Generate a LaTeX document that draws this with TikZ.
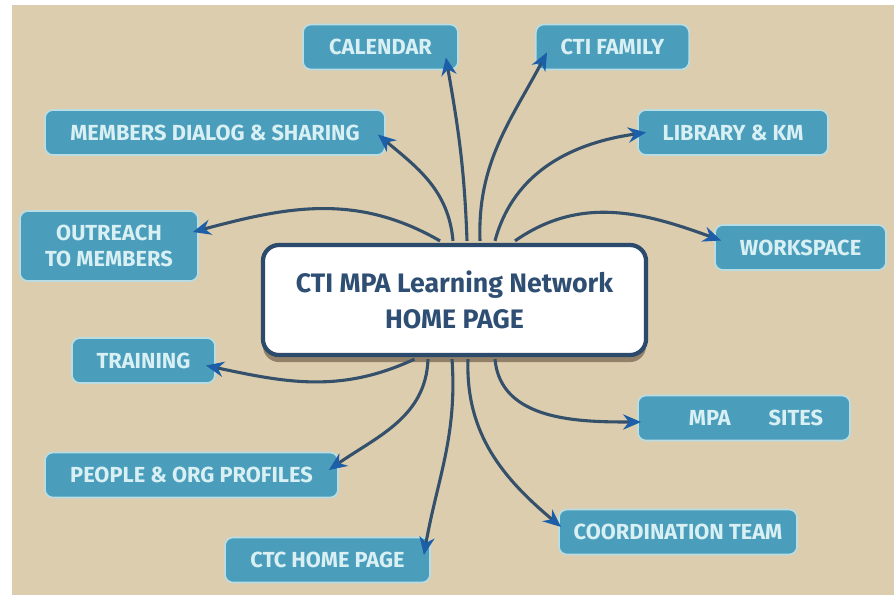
\documentclass[tikz,border=0pt]{standalone}
\usepackage{fontspec}
\setmainfont{Fira Sans}
\usetikzlibrary{arrows.meta,calc,shadows}

\definecolor{sand}{HTML}{DCCDAE}
\definecolor{boxblue}{HTML}{4A9DBB}
\definecolor{boxrim}{HTML}{B9DDE2}
\definecolor{boxtext}{HTML}{D8F0F4}
\definecolor{homeline}{HTML}{2B4A6C}
\definecolor{hometext}{HTML}{2E4E73}
\definecolor{linkline}{HTML}{34506A}
\definecolor{linktip}{HTML}{1D5EA8}

\tikzset{
  topic/.style={draw=boxrim, line width=1.2pt, fill=boxblue, rounded corners=0.2cm,
    text=boxtext, font=\bfseries\fontsize{15.5}{18.5}\selectfont, align=center,
    inner sep=0pt, minimum height=1.125cm},
  home/.style={draw=homeline, line width=3pt, fill=white, rounded corners=0.4cm,
    text=hometext, font=\bfseries\fontsize{19}{26}\selectfont, align=center,
    drop shadow={shadow xshift=0pt, shadow yshift=-5pt, opacity=0.45, fill=black!70!brown}},
  link/.style={draw=linkline, line width=2.2pt,
    -{Stealth[length=0.45cm,width=0.38cm,color=linktip]}},
}

\begin{document}
\begin{tikzpicture}[x=0.025cm,y=0.025cm]
  \useasboundingbox (0,0) rectangle (894,-599);
  \fill[white] (0,0) rectangle (894,-599);
  \fill[sand] (12,-5) rectangle (894,-595);

  % centre page
  \node[home, minimum width=9.575cm, minimum height=2.75cm] (homepage) at (454.5,-300)
    {CTI MPA Learning Network\\HOME PAGE};

  % upper topics
  \node[topic, minimum width=3.875cm] (calendar) at (380.5,-47) {CALENDAR};
  \node[topic, minimum width=3.83cm] (ctifamily) at (612.5,-47) {CTI FAMILY};
  \node[topic, minimum width=8.5cm] (members) at (215,-132.5) {MEMBERS DIALOG \& SHARING};
  \node[topic, minimum width=4.75cm] (library) at (733,-132.5) {LIBRARY \& KM};
  \node[topic, minimum width=4.45cm, minimum height=1.75cm] (outreach) at (109,-246)
    {OUTREACH\\TO MEMBERS};
  \node[topic, minimum width=4.275cm] (workspace) at (800.5,-247.5) {WORKSPACE};

  % lower topics
  \node[topic, minimum width=3.575cm] (training) at (143.5,-360.5) {TRAINING};
  \node[topic, minimum width=5.3cm] (mpasites) at (744,-418) {\hspace{0.6cm}MPA\hspace{0.95cm}SITES};
  \node[topic, minimum width=7.325cm] (people) at (191.5,-475) {PEOPLE \& ORG PROFILES};
  \node[topic, minimum width=5.125cm] (ctcpage) at (327.5,-560) {CTC HOME PAGE};
  \node[topic, minimum width=5.95cm] (coordteam) at (678,-532) {COORDINATION TEAM};

  % links going up
  \draw[link] ($(homepage.north)+(-14.5,2)$) to[out=150,in=15] ($(outreach.east)+(-6,14)$);
  \draw[link] ($(homepage.north)+(-1.5,2)$) to[out=95,in=-40] ($(members.east)+(-8,-2)$);
  \draw[link] ($(homepage.north)+(12.5,2)$) to[out=92,in=-80] ($(calendar.south east)+(-13,13)$);
  \draw[link] ($(homepage.north)+(25.5,2)$) to[out=92,in=-118] ($(ctifamily.south west)+(12,18)$);
  \draw[link] ($(homepage.north)+(40.5,2)$) to[out=75,in=188] ($(library.west)+(9,0)$);
  \draw[link] ($(homepage.north)+(60.5,2)$) to[out=35,in=160] ($(workspace.west)+(7,7)$);

  % links going down
  \draw[link] ($(homepage.south)+(-40,-2)$) to[out=-155,in=-12] ($(training.east)+(-10,-5)$);
  \draw[link] ($(homepage.south)+(-26.5,-2)$) to[out=-92,in=35] ($(people.east)+(-10,5)$);
  \draw[link] ($(homepage.south)+(-2.5,-2)$) to[out=-86,in=80] ($(ctcpage.east)+(-7,5)$);
  \draw[link] ($(homepage.south)+(13.5,-2)$) to[out=-92,in=140] ($(coordteam.west)+(3,5)$);
  \draw[link] ($(homepage.south)+(40.5,-2)$) to[out=-85,in=180] ($(mpasites.west)+(4,-4)$);
\end{tikzpicture}
\end{document}
